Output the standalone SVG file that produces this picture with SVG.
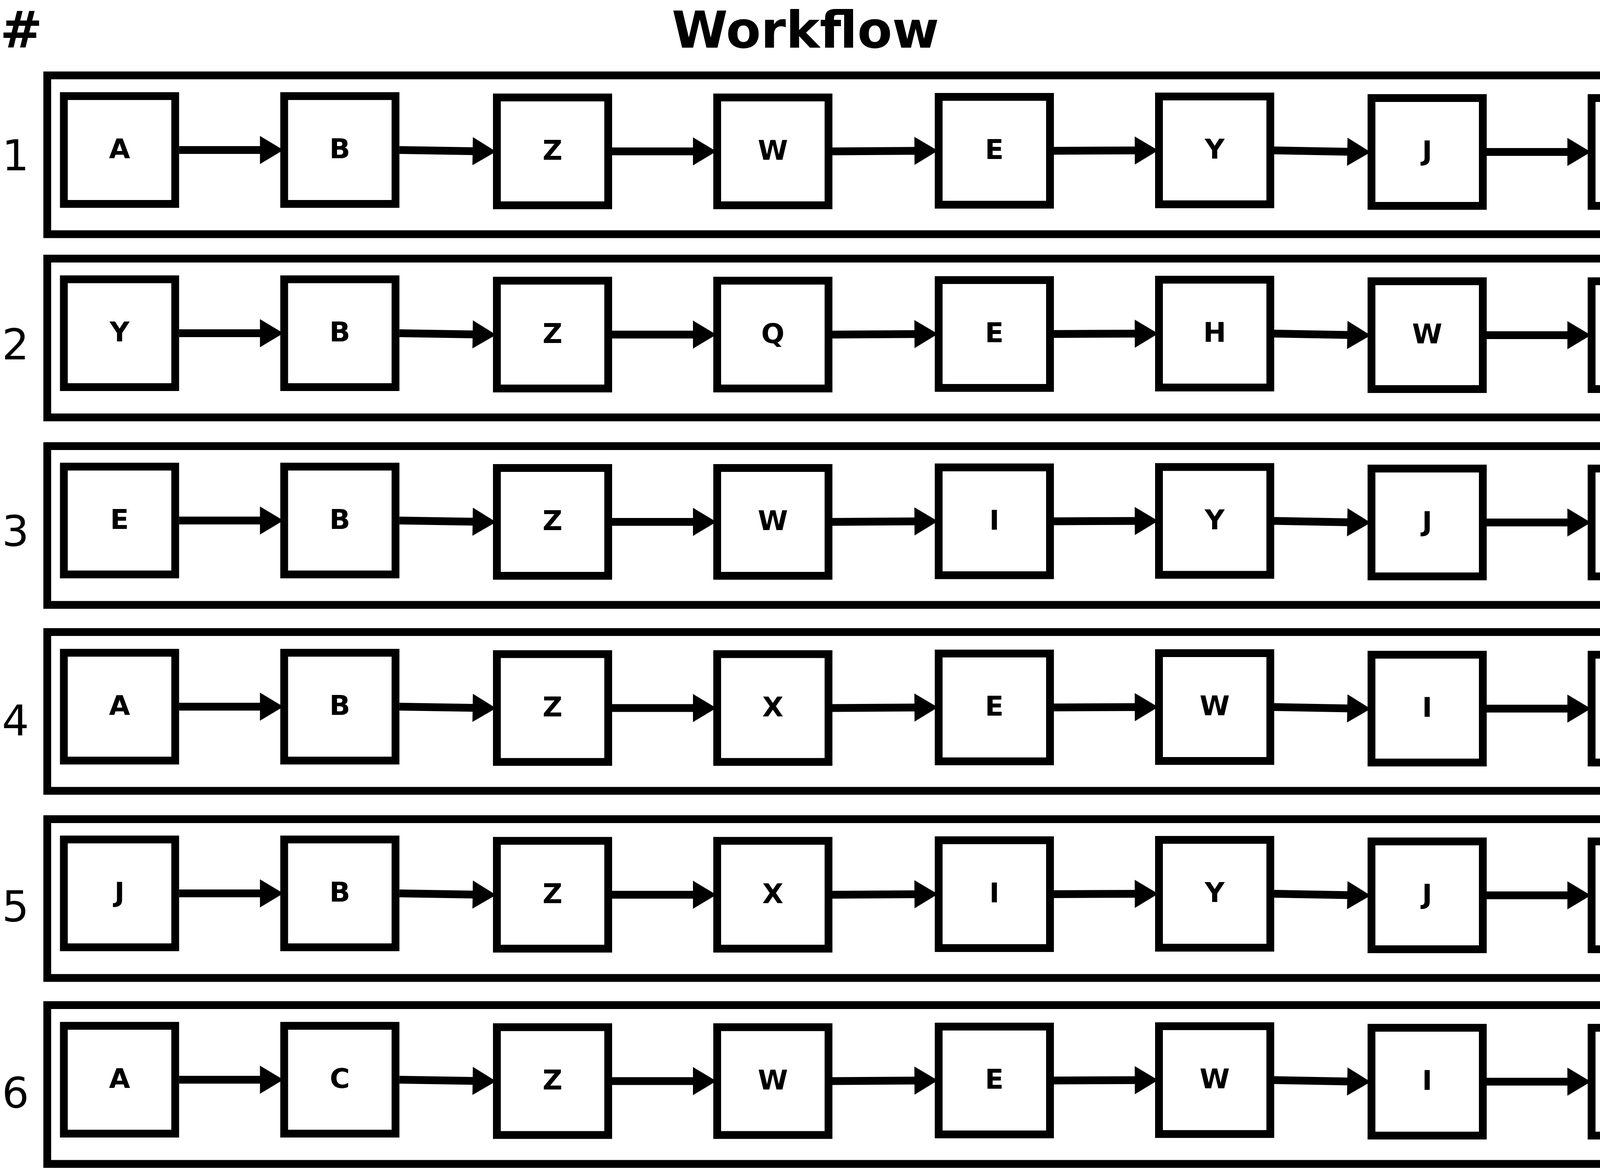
<svg xmlns="http://www.w3.org/2000/svg" width="5340" height="2990" viewBox="0 0 5340 2990">
<style>
.frame{fill:none;stroke:#000;stroke-width:20}
.node rect{fill:#fff;stroke:#000;stroke-width:20}
.node text{font-family:"DejaVu Sans",sans-serif;font-weight:bold;font-size:70px;text-anchor:middle;fill:#000}
.conn line{stroke:#000;stroke-width:20;marker-end:url(#ah)}
.hdr{font-family:"DejaVu Sans",sans-serif;font-weight:bold;font-size:130px;fill:#000}
.num{font-family:"DejaVu Sans",sans-serif;font-size:109px;fill:#000}
.ann{font-family:"DejaVu Sans",sans-serif;font-size:109px;fill:#000}
</style>
<defs>
<marker id="ah" markerUnits="userSpaceOnUse" markerWidth="80" markerHeight="80" refX="32" refY="0" orient="auto" overflow="visible">
<path d="M0,-36 L60,0 L0,36 Z" fill="#000"/>
</marker>
</defs>
<rect x="0" y="0" width="5340" height="2990" fill="#fff"/>
<g id="headers">
<text class="hdr" x="0" y="121">#</text>
<text class="hdr" x="2062" y="122" text-anchor="middle">Workflow</text>
<text class="hdr" x="4441" y="121">Anotações</text>
</g>
<g id="row-numbers">
<text class="num" x="5" y="436">1</text>
<text class="num" x="5" y="920">2</text>
<text class="num" x="5" y="1397">3</text>
<text class="num" x="5" y="1883">4</text>
<text class="num" x="5" y="2358">5</text>
<text class="num" x="5" y="2835">6</text>
</g>
<g id="annotations">
<text class="ann" x="4447" y="436">BLAST</text>
<text class="ann" x="4447" y="919">SNAP_DRAGONS</text>
<text class="ann" x="4447" y="1397">BLAST</text>
<text class="ann" x="4447" y="1883">FAST</text>
<text class="ann" x="4447" y="2358">CLUSTAL</text>
<text class="ann" x="4447" y="2835">BLAST</text>
</g>
<g id="frame-1"><rect class="frame" x="121" y="193" width="4286" height="406.5"/></g>
<g id="frame-2"><rect class="frame" x="121" y="662" width="4286" height="406.5"/></g>
<g id="frame-3"><rect class="frame" x="121" y="1142" width="4286" height="406.5"/></g>
<g id="frame-4"><rect class="frame" x="121" y="1618" width="4286" height="406.5"/></g>
<g id="frame-5"><rect class="frame" x="121" y="2097" width="4286" height="406.5"/></g>
<g id="frame-6"><rect class="frame" x="121" y="2573" width="4286" height="406.5"/></g>

<g id="r1n1" class="node"><rect x="163.5" y="246" width="285" height="276"/><text x="306" y="405">A</text></g>
<g id="r1n2" class="node"><rect x="727.5" y="246" width="285" height="276"/><text x="870" y="405">B</text></g>
<g id="r1n3" class="node"><rect x="1272" y="249.5" width="285" height="276"/><text x="1414.5" y="408.5">Z</text></g>
<g id="r1n4" class="node"><rect x="1836" y="249.5" width="285" height="276"/><text x="1978.5" y="408.5">W</text></g>
<g id="r1n5" class="node"><rect x="2403" y="248" width="285" height="276"/><text x="2545.5" y="407">E</text></g>
<g id="r1n6" class="node"><rect x="2967" y="247" width="285" height="276"/><text x="3109.5" y="406">Y</text></g>
<g id="r1n7" class="node"><rect x="3511" y="251" width="285" height="276"/><text x="3653.5" y="410">J</text></g>
<g id="r1n8" class="node"><rect x="4074.5" y="251" width="285" height="276"/><text x="4217" y="410">D</text></g>

<g id="r2n1" class="node"><rect x="163.5" y="715" width="285" height="276"/><text x="306" y="874">Y</text></g>
<g id="r2n2" class="node"><rect x="727.5" y="715" width="285" height="276"/><text x="870" y="874">B</text></g>
<g id="r2n3" class="node"><rect x="1272" y="718.5" width="285" height="276"/><text x="1414.5" y="877.5">Z</text></g>
<g id="r2n4" class="node"><rect x="1836" y="718.5" width="285" height="276"/><text x="1978.5" y="877.5">Q</text></g>
<g id="r2n5" class="node"><rect x="2403" y="717" width="285" height="276"/><text x="2545.5" y="876">E</text></g>
<g id="r2n6" class="node"><rect x="2967" y="716" width="285" height="276"/><text x="3109.5" y="875">H</text></g>
<g id="r2n7" class="node"><rect x="3511" y="720" width="285" height="276"/><text x="3653.5" y="879">W</text></g>
<g id="r2n8" class="node"><rect x="4074.5" y="720" width="285" height="276"/><text x="4217" y="879">I</text></g>

<g id="r3n1" class="node"><rect x="163.5" y="1194.5" width="285" height="276"/><text x="306" y="1353.5">E</text></g>
<g id="r3n2" class="node"><rect x="727.5" y="1194.5" width="285" height="276"/><text x="870" y="1353.5">B</text></g>
<g id="r3n3" class="node"><rect x="1272" y="1198" width="285" height="276"/><text x="1414.5" y="1357">Z</text></g>
<g id="r3n4" class="node"><rect x="1836" y="1198" width="285" height="276"/><text x="1978.5" y="1357">W</text></g>
<g id="r3n5" class="node"><rect x="2403" y="1196.5" width="285" height="276"/><text x="2545.5" y="1355.5">I</text></g>
<g id="r3n6" class="node"><rect x="2967" y="1195.5" width="285" height="276"/><text x="3109.5" y="1354.5">Y</text></g>
<g id="r3n7" class="node"><rect x="3511" y="1199.5" width="285" height="276"/><text x="3653.5" y="1358.5">J</text></g>
<g id="r3n8" class="node"><rect x="4074.5" y="1199.5" width="285" height="276"/><text x="4217" y="1358.5">C</text></g>

<g id="r4n1" class="node"><rect x="163.5" y="1671" width="285" height="276"/><text x="306" y="1830">A</text></g>
<g id="r4n2" class="node"><rect x="727.5" y="1671" width="285" height="276"/><text x="870" y="1830">B</text></g>
<g id="r4n3" class="node"><rect x="1272" y="1674.5" width="285" height="276"/><text x="1414.5" y="1833.5">Z</text></g>
<g id="r4n4" class="node"><rect x="1836" y="1674.5" width="285" height="276"/><text x="1978.5" y="1833.5">X</text></g>
<g id="r4n5" class="node"><rect x="2403" y="1673" width="285" height="276"/><text x="2545.5" y="1832">E</text></g>
<g id="r4n6" class="node"><rect x="2967" y="1672" width="285" height="276"/><text x="3109.5" y="1831">W</text></g>
<g id="r4n7" class="node"><rect x="3511" y="1676" width="285" height="276"/><text x="3653.5" y="1835">I</text></g>
<g id="r4n8" class="node"><rect x="4074.5" y="1676" width="285" height="276"/><text x="4217" y="1835">D</text></g>

<g id="r5n1" class="node"><rect x="163.5" y="2149" width="285" height="276"/><text x="306" y="2308">J</text></g>
<g id="r5n2" class="node"><rect x="727.5" y="2149" width="285" height="276"/><text x="870" y="2308">B</text></g>
<g id="r5n3" class="node"><rect x="1272" y="2152.5" width="285" height="276"/><text x="1414.5" y="2311.5">Z</text></g>
<g id="r5n4" class="node"><rect x="1836" y="2152.5" width="285" height="276"/><text x="1978.5" y="2311.5">X</text></g>
<g id="r5n5" class="node"><rect x="2403" y="2151" width="285" height="276"/><text x="2545.5" y="2310">I</text></g>
<g id="r5n6" class="node"><rect x="2967" y="2150" width="285" height="276"/><text x="3109.5" y="2309">Y</text></g>
<g id="r5n7" class="node"><rect x="3511" y="2154" width="285" height="276"/><text x="3653.5" y="2313">J</text></g>
<g id="r5n8" class="node"><rect x="4074.5" y="2154" width="285" height="276"/><text x="4217" y="2313">C</text></g>

<g id="r6n1" class="node"><rect x="163.5" y="2626" width="285" height="276"/><text x="306" y="2785">A</text></g>
<g id="r6n2" class="node"><rect x="727.5" y="2626" width="285" height="276"/><text x="870" y="2785">C</text></g>
<g id="r6n3" class="node"><rect x="1272" y="2629.5" width="285" height="276"/><text x="1414.5" y="2788.5">Z</text></g>
<g id="r6n4" class="node"><rect x="1836" y="2629.5" width="285" height="276"/><text x="1978.5" y="2788.5">W</text></g>
<g id="r6n5" class="node"><rect x="2403" y="2628" width="285" height="276"/><text x="2545.5" y="2787">E</text></g>
<g id="r6n6" class="node"><rect x="2967" y="2627" width="285" height="276"/><text x="3109.5" y="2786">W</text></g>
<g id="r6n7" class="node"><rect x="3511" y="2631" width="285" height="276"/><text x="3653.5" y="2790">I</text></g>
<g id="r6n8" class="node"><rect x="4074.5" y="2631" width="285" height="276"/><text x="4217" y="2790">B</text></g>

<g id="connectors" class="conn">
<line x1="458.5" y1="384" x2="697.5" y2="384"/>
<line x1="1022.5" y1="384" x2="1242" y2="387.5"/>
<line x1="1567" y1="387.5" x2="1806" y2="387.5"/>
<line x1="2131" y1="387.5" x2="2373" y2="386"/>
<line x1="2698" y1="386" x2="2937" y2="385"/>
<line x1="3262" y1="385" x2="3481" y2="389"/>
<line x1="3806" y1="389" x2="4044.5" y2="389"/>

<line x1="458.5" y1="853" x2="697.5" y2="853"/>
<line x1="1022.5" y1="853" x2="1242" y2="856.5"/>
<line x1="1567" y1="856.5" x2="1806" y2="856.5"/>
<line x1="2131" y1="856.5" x2="2373" y2="855"/>
<line x1="2698" y1="855" x2="2937" y2="854"/>
<line x1="3262" y1="854" x2="3481" y2="858"/>
<line x1="3806" y1="858" x2="4044.5" y2="858"/>

<line x1="458.5" y1="1332.5" x2="697.5" y2="1332.5"/>
<line x1="1022.5" y1="1332.5" x2="1242" y2="1336"/>
<line x1="1567" y1="1336" x2="1806" y2="1336"/>
<line x1="2131" y1="1336" x2="2373" y2="1334.5"/>
<line x1="2698" y1="1334.5" x2="2937" y2="1333.5"/>
<line x1="3262" y1="1333.5" x2="3481" y2="1337.5"/>
<line x1="3806" y1="1337.5" x2="4044.5" y2="1337.5"/>

<line x1="458.5" y1="1809" x2="697.5" y2="1809"/>
<line x1="1022.5" y1="1809" x2="1242" y2="1812.5"/>
<line x1="1567" y1="1812.5" x2="1806" y2="1812.5"/>
<line x1="2131" y1="1812.5" x2="2373" y2="1811"/>
<line x1="2698" y1="1811" x2="2937" y2="1810"/>
<line x1="3262" y1="1810" x2="3481" y2="1814"/>
<line x1="3806" y1="1814" x2="4044.5" y2="1814"/>

<line x1="458.5" y1="2287" x2="697.5" y2="2287"/>
<line x1="1022.5" y1="2287" x2="1242" y2="2290.5"/>
<line x1="1567" y1="2290.5" x2="1806" y2="2290.5"/>
<line x1="2131" y1="2290.5" x2="2373" y2="2289"/>
<line x1="2698" y1="2289" x2="2937" y2="2288"/>
<line x1="3262" y1="2288" x2="3481" y2="2292"/>
<line x1="3806" y1="2292" x2="4044.5" y2="2292"/>

<line x1="458.5" y1="2764" x2="697.5" y2="2764"/>
<line x1="1022.5" y1="2764" x2="1242" y2="2767.5"/>
<line x1="1567" y1="2767.5" x2="1806" y2="2767.5"/>
<line x1="2131" y1="2767.5" x2="2373" y2="2766"/>
<line x1="2698" y1="2766" x2="2937" y2="2765"/>
<line x1="3262" y1="2765" x2="3481" y2="2769"/>
<line x1="3806" y1="2769" x2="4044.5" y2="2769"/>
</g>
</svg>
